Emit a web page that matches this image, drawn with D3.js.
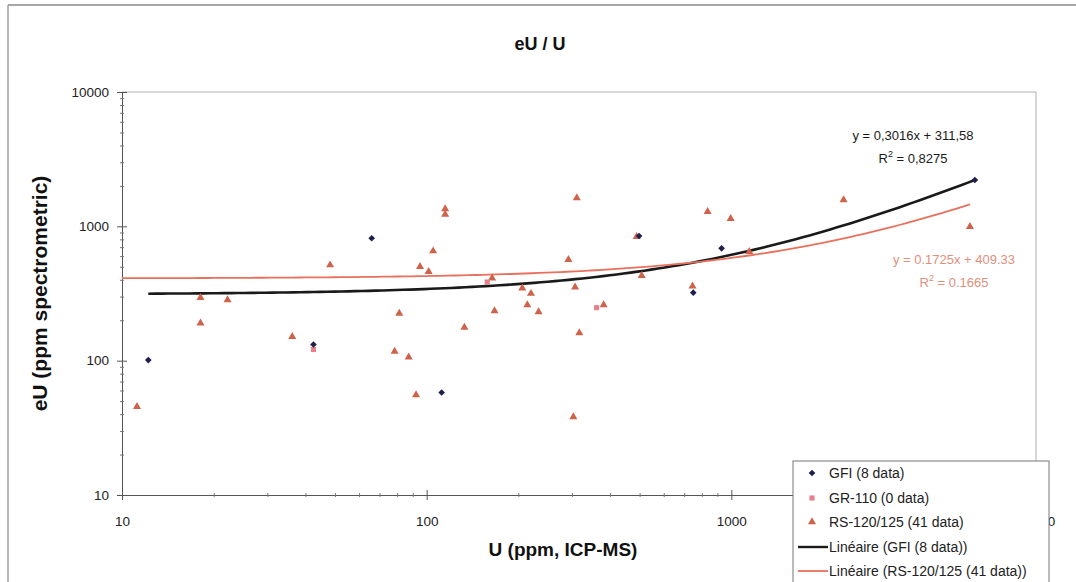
<!DOCTYPE html>
<html>
<head>
<meta charset="utf-8">
<script src="https://cdn.jsdelivr.net/npm/d3@7"></script>
<style>
  body { margin: 0; background: #fff; }
  svg { font-family: "Liberation Sans", Arial, sans-serif; }
</style>
</head>
<body>
<div id="chart"></div>
<script>
// eU / U scatter, log-log, with Excel style linear trendlines

const width = 1076;
const height = 582;
const margin = {left: 122, right: 40, top: 92, bottom: 87};

// data (U ppm ICP-MS, eU ppm spectrometric)
const gfiU  = [12.2, 42.5, 66, 112, 498, 750, 929, 6300];
const gfiEU = [101, 132, 815, 58, 847, 321, 686, 2213];

const grU  = [42.5, 158, 361];
const grEU = [121, 385, 248];

const rsU  = [11.2, 18.1, 18.1, 22.2, 36.2, 48.2, 78.5, 81.3, 87.3, 92.3, 95.1, 101.5, 105,
              115, 115, 133, 164, 167, 206, 214, 220, 233, 292, 303, 307, 311, 317, 381,
              489, 508, 746, 836, 995, 1145, 2336, 6070];
const rsEU = [45.4, 294, 190, 283, 151, 515, 117, 225, 106, 55.5, 501, 459, 655,
              1346, 1225, 177, 412, 235, 346, 260, 316, 231, 564, 38.1, 353, 1625, 161, 260,
              837, 429, 359, 1285, 1140, 648, 1571, 994];

// trendlines as printed on the chart
const trendNames = ["GFI", "RS"];
const trendSlope = [0.3016, 0.1725];
const trendIntercept = [311.58, 409.33];
const trendFrom = [12.2, 10];
const trendTo = [6300, 6070];
const trendLabels = [["y = 0,3016x + 311,58", "0,8275"], ["y = 0.1725x + 409.33", "0.1665"]];

const majorTicks = [10, 100, 1000, 10000];

const legendLabels = ["GFI (8 data)", "GR-110 (0 data)", "RS-120/125 (41 data)",
                      "Linéaire (GFI (8 data))", "Linéaire (RS-120/125 (41 data))"];

const colGfi = "#1f1f4d";
const colGr = "#e77f8c";
const colRs = "#cf624b";
const colLineRs = "#e9705c";

const svg = d3.select("#chart").append("svg")
  .attr("width", width)
  .attr("height", height);

// outer frame of the chart (top + left visible in the scan)
svg.append("line").attr("x1", 8).attr("x2", width).attr("y1", 5).attr("y2", 5)
  .attr("stroke", "#8a8a8a").attr("stroke-width", 1.5);
svg.append("line").attr("x1", 8).attr("x2", 8).attr("y1", 5).attr("y2", height)
  .attr("stroke", "#8a8a8a").attr("stroke-width", 1.2);

const x = d3.scaleLog().domain([10, 10000]).range([margin.left, width - margin.right]);
const y = d3.scaleLog().domain([10, 10000]).range([height - margin.bottom, margin.top]);

// plot area border (top and right)
svg.append("path")
  .attr("d", `M${x(10)},${y(10000)}H${x(10000)}V${y(10)}`)
  .attr("fill", "none").attr("stroke", "#b0b0b0").attr("stroke-width", 1);

// minor ticks 2..9 per decade
const minorTicks = [];
[10, 100, 1000].forEach(d => { for (let k = 2; k < 10; k++) minorTicks.push(d * k); });

// x axis
const xAxis = svg.append("g")
  .attr("transform", `translate(0,${y(10)})`)
  .call(d3.axisBottom(x).tickValues(majorTicks).tickFormat(d3.format("d")).tickSize(5).tickPadding(16));
xAxis.select(".domain").attr("stroke", "#555");
xAxis.selectAll(".tick line").attr("y1", -5).attr("stroke", "#555");
xAxis.selectAll("text").attr("font-size", "13.5px").attr("fill", "#222");

const xMinor = svg.append("g")
  .attr("transform", `translate(0,${y(10)})`)
  .call(d3.axisBottom(x).tickValues(minorTicks).tickFormat("").tickSize(2));
xMinor.select(".domain").remove();
xMinor.selectAll(".tick line").attr("y1", -2).attr("stroke", "#777");

// y axis
const yAxis = svg.append("g")
  .attr("transform", `translate(${x(10)},0)`)
  .call(d3.axisLeft(y).tickValues(majorTicks).tickFormat(d3.format("d")).tickSize(5).tickPadding(8));
yAxis.select(".domain").attr("stroke", "#555");
yAxis.selectAll(".tick line").attr("x1", 5).attr("stroke", "#555");
yAxis.selectAll("text").attr("font-size", "13.5px").attr("fill", "#222");

const yMinor = svg.append("g")
  .attr("transform", `translate(${x(10)},0)`)
  .call(d3.axisLeft(y).tickValues(minorTicks).tickFormat("").tickSize(2));
yMinor.select(".domain").remove();
yMinor.selectAll(".tick line").attr("x1", 2).attr("stroke", "#777");

// titles
svg.append("text")
  .attr("x", 540).attr("y", 50)
  .attr("text-anchor", "middle")
  .attr("font-size", "18px").attr("font-weight", "bold").attr("fill", "#111")
  .text("eU / U");

svg.append("text")
  .attr("transform", `translate(47,${(y(10) + y(10000)) / 2}) rotate(-90)`)
  .attr("text-anchor", "middle")
  .attr("font-size", "21px").attr("font-weight", "bold").attr("fill", "#111")
  .text("eU (ppm spectrometric)");

svg.append("text")
  .attr("x", 563).attr("y", 556)
  .attr("text-anchor", "middle")
  .attr("font-size", "19px").attr("font-weight", "bold").attr("fill", "#111")
  .text("U (ppm, ICP-MS)");

// trendlines, drawn from the printed equations over the data range
const trendColors = ["#1a1a1a", colLineRs];
const trendWidths = [2.6, 1.8];
const line = d3.line().x(d => x(d[0])).y(d => y(d[1])).curve(d3.curveLinear);
trendNames.forEach((name, i) => {
  const lo = Math.log10(trendFrom[i]), hi = Math.log10(trendTo[i]);
  const pts = d3.range(0, 121).map(k => {
    const u = Math.pow(10, lo + (hi - lo) * k / 120);
    return [u, trendSlope[i] * u + trendIntercept[i]];
  });
  svg.append("path")
    .datum(pts)
    .attr("fill", "none")
    .attr("stroke", trendColors[i])
    .attr("stroke-width", trendWidths[i])
    .attr("d", line);
});

// markers (diamond = square turned 45deg, like Excel)
const tri = d3.symbol().type(d3.symbolTriangle).size(28);
const dia = d3.symbol().type(d3.symbolSquare).size(22);
const sq = d3.symbol().type(d3.symbolSquare).size(26);

svg.append("g").selectAll("path")
  .data(rsU.map((u, i) => [u, rsEU[i]]))
  .enter().append("path")
    .attr("transform", d => `translate(${x(d[0])},${y(d[1])})`)
    .attr("d", tri)
    .attr("fill", colRs);

svg.append("g").selectAll("path")
  .data(grU.map((u, i) => [u, grEU[i]]))
  .enter().append("path")
    .attr("transform", d => `translate(${x(d[0])},${y(d[1])})`)
    .attr("d", sq)
    .attr("fill", colGr);

svg.append("g").selectAll("path")
  .data(gfiU.map((u, i) => [u, gfiEU[i]]))
  .enter().append("path")
    .attr("transform", d => `translate(${x(d[0])},${y(d[1])}) rotate(45)`)
    .attr("d", dia)
    .attr("fill", colGfi);

// equation labels
const eqX = [913, 954];
const eqY = [140, 264];
const eqColors = ["#1a1a1a", "#df8f7c"];
trendLabels.forEach((lab, i) => {
  svg.append("text")
    .attr("x", eqX[i]).attr("y", eqY[i])
    .attr("text-anchor", "middle").attr("font-size", "13px").attr("fill", eqColors[i])
    .text(lab[0]);
  const r = svg.append("text")
    .attr("x", eqX[i]).attr("y", eqY[i] + 23)
    .attr("text-anchor", "middle").attr("font-size", "13px").attr("fill", eqColors[i]);
  r.append("tspan").text("R");
  r.append("tspan").attr("dy", -6).attr("font-size", "9px").text("2");
  r.append("tspan").attr("dy", 6).text(" = " + lab[1]);
});

// legend (sits on top of the 10000 x label like in the original)
const lg = svg.append("g").attr("transform", "translate(793,461)");
lg.append("rect")
  .attr("width", 256).attr("height", 140)
  .attr("fill", "#fff").attr("stroke", "#777").attr("stroke-width", 1);

const rowY = [12, 37, 61, 86, 110];
legendLabels.forEach((lab, i) => {
  const g = lg.append("g").attr("transform", `translate(0,${rowY[i]})`);
  if (i === 0) g.append("path").attr("transform", "translate(19,0) rotate(45)").attr("d", dia).attr("fill", colGfi);
  if (i === 1) g.append("path").attr("transform", "translate(19,0)").attr("d", sq).attr("fill", colGr);
  if (i === 2) g.append("path").attr("transform", "translate(19,0)").attr("d", tri).attr("fill", colRs);
  if (i === 3) g.append("line").attr("x1", 5).attr("x2", 35).attr("stroke", "#1a1a1a").attr("stroke-width", 2.4);
  if (i === 4) g.append("line").attr("x1", 5).attr("x2", 35).attr("stroke", colLineRs).attr("stroke-width", 1.8);
  g.append("text")
    .attr("x", 36).attr("y", 5)
    .attr("font-size", "14px").attr("fill", "#222")
    .text(lab);
});
</script>
</body>
</html>
